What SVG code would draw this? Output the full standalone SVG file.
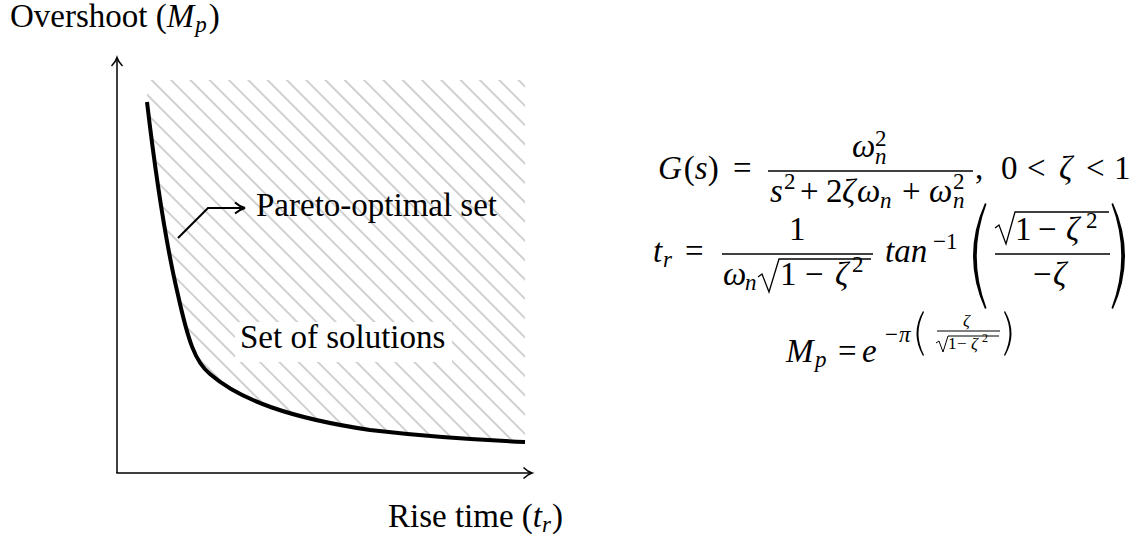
<svg xmlns="http://www.w3.org/2000/svg" width="1147" height="544" viewBox="0 0 1147 544" font-family="'Liberation Serif', 'DejaVu Serif', serif">
<style>
  text { font-family: "Liberation Serif", "Times New Roman", "DejaVu Serif", serif; fill: #000; }
  .t { font-size: 33px; }
  .i { font-style: italic; }
  .s { font-size: 23px; }
  .ss { font-size: 17px; }
  .sss { font-size: 12px; }
  .ax { stroke: #000; stroke-width: 1.5; fill: none; }
  .bar { stroke: #000; stroke-width: 1.3; }
  .rad { stroke: #000; stroke-width: 1.3; fill: none; stroke-linejoin: miter; }
  .par { fill: #000; stroke: none; }
</style>
<defs>
  <pattern id="hatch" patternUnits="userSpaceOnUse" width="13.65" height="13.65" patternTransform="rotate(45)">
    <line x1="-1" y1="3.9" x2="15" y2="3.9" stroke="#c6c6c6" stroke-width="1.6"/>
  </pattern>
  <marker id="arr" markerUnits="userSpaceOnUse" viewBox="-12 -8 14 16" markerWidth="14" markerHeight="16" refX="0" refY="0" orient="auto" overflow="visible">
    <path d="M-8.5,-5.5 C-5.5,-2.5 -2,-0.6 0,0 C-2,0.6 -5.5,2.5 -8.5,5.5" fill="none" stroke="#000" stroke-width="1.5"/>
  </marker>
  <marker id="arr2" markerUnits="userSpaceOnUse" viewBox="-14 -8 16 16" markerWidth="16" markerHeight="16" refX="0" refY="0" orient="auto" overflow="visible">
    <path d="M-10,-5.5 C-6.5,-2.5 -2.5,-0.6 0,0 C-2.5,0.6 -6.5,2.5 -10,5.5" fill="none" stroke="#000" stroke-width="2"/>
  </marker>
</defs>

<g id="solution-region">
  <path d="M147,80 H525 V442 C480,440 430,437 370,430 C290,418 240,400 210,374 C195,362 188,340 178,295 C165,240 155,170 147,102 Z" fill="url(#hatch)"/>
</g>

<g id="pareto-curve">
  <path d="M147,102 C155,170 165,240 178,295 C188,340 195,362 210,374 C240,400 290,418 370,430 C430,437 480,440 525,442" fill="none" stroke="#000" stroke-width="4"/>
</g>

<g id="connectors">
  <line class="ax" x1="117" y1="473" x2="117" y2="57.5" marker-end="url(#arr)"/>
  <line class="ax" x1="116.25" y1="473" x2="532" y2="473" marker-end="url(#arr)"/>
  <path d="M178,238 L208,208 L245,208" fill="none" stroke="#000" stroke-width="2" marker-end="url(#arr2)"/>
</g>

<g id="y-label">
  <text class="t" x="10" y="27">Overshoot (<tspan class="i">M</tspan><tspan class="s i" dx="1" dy="5">p</tspan><tspan dx="2" dy="-5">)</tspan></text>
</g>

<g id="x-label">
  <text class="t" x="388" y="527">Rise time (<tspan class="i">t</tspan><tspan class="s i" dy="5">r</tspan><tspan dx="1" dy="-5">)</tspan></text>
</g>

<g id="pareto-label">
  <text class="t" x="256" y="216">Pareto-optimal set</text>
</g>

<g id="solutions-label">
  <rect x="235" y="322" width="217" height="40" fill="#fff"/>
  <text class="t" x="240" y="348">Set of solutions</text>
</g>

<g id="formula-G">
  <text class="t" x="658" y="179"><tspan class="i">G</tspan><tspan dx="2">(</tspan><tspan class="i">s</tspan><tspan>)</tspan></text>
  <text class="t" x="733" y="179">=</text>
  <line class="bar" x1="768" y1="171" x2="973" y2="171"/>
  <text class="t i" x="852" y="157">ω</text>
  <text class="s"><tspan x="875" y="146">2</tspan><tspan class="i" x="875" y="164">n</tspan></text>
  <text class="t i" x="770" y="202">s</text>
  <text class="s" x="784" y="189">2</text>
  <text class="t" x="800" y="202">+</text>
  <text class="t" x="826" y="202">2</text>
  <text class="t i" x="842" y="202">ζ</text>
  <text class="t i" x="857" y="202">ω</text>
  <text class="s i" x="880" y="208">n</text>
  <text class="t" x="902" y="202">+</text>
  <text class="t i" x="929" y="202">ω</text>
  <text class="s"><tspan x="953" y="189">2</tspan><tspan class="i" x="953" y="208">n</tspan></text>
  <text class="t" x="975" y="179">,</text>
  <text class="t" x="1001" y="179">0</text>
  <text class="t" x="1027" y="179">&lt;</text>
  <text class="t i" x="1059" y="179">ζ</text>
  <text class="t" x="1086" y="179">&lt;</text>
  <text class="t" x="1114" y="179">1</text>
</g>

<g id="formula-tr">
  <text class="t i" x="653" y="262">t</text>
  <text class="s i" x="663" y="267">r</text>
  <text class="t" x="685" y="262">=</text>
  <line class="bar" x1="722" y1="254" x2="873" y2="254"/>
  <text class="t" x="789" y="240">1</text>
  <text class="t i" x="723" y="285">ω</text>
  <text class="s i" x="745" y="290">n</text>
  <path class="rad" d="M758,277 L762,274 L769,292 L779,259 H871"/>
  <text class="t" x="780" y="285">1</text>
  <text class="t" x="805" y="285">−</text>
  <text class="t i" x="835" y="285">ζ</text>
  <text class="s" x="852" y="272">2</text>
  <text class="t i" x="885" y="262">tan</text>
  <text class="s" x="933" y="249">−1</text>
  <path class="par" d="M985,203 Q961,256 985,309 L986.5,308 Q967,256 986.5,204 Z"/>
  <line class="bar" x1="995" y1="254" x2="1110" y2="254"/>
  <path class="rad" d="M995,228 L999,225 L1006,244 L1015,212 H1109"/>
  <text class="t" x="1015" y="240">1</text>
  <text class="t" x="1038" y="240">−</text>
  <text class="t i" x="1066" y="240">ζ</text>
  <text class="s" x="1086" y="228">2</text>
  <text class="t" x="1033" y="285">−</text>
  <text class="t i" x="1053" y="285">ζ</text>
  <path class="par" d="M1113,203 Q1137,256 1113,309 L1111.5,308 Q1131,256 1111.5,204 Z"/>
</g>

<g id="formula-Mp">
  <text class="t i" x="786" y="362">M</text>
  <text class="s i" x="815" y="367">p</text>
  <text class="t" x="838" y="362">=</text>
  <text class="t i" x="862" y="362">e</text>
  <text class="s" x="885" y="342">−</text>
  <text class="s i" x="899" y="342">π</text>
  <path class="par" d="M923,311 Q910,333.5 923,356 L924,355 Q913,333.5 924,312 Z"/>
  <line x1="937" y1="331" x2="1000" y2="331" stroke="#000" stroke-width="1"/>
  <text class="ss i" x="963" y="326">ζ</text>
  <path d="M936,343 L939,341 L943,352 L948,336 H999" fill="none" stroke="#000" stroke-width="1"/>
  <text class="ss" x="948" y="349">1</text>
  <text class="ss" x="957" y="349">−</text>
  <text class="ss i" x="971" y="349">ζ</text>
  <text class="sss" x="982" y="342">2</text>
  <path class="par" d="M1005,311 Q1018,333.5 1005,356 L1004,355 Q1015,333.5 1004,312 Z"/>
</g>
</svg>
